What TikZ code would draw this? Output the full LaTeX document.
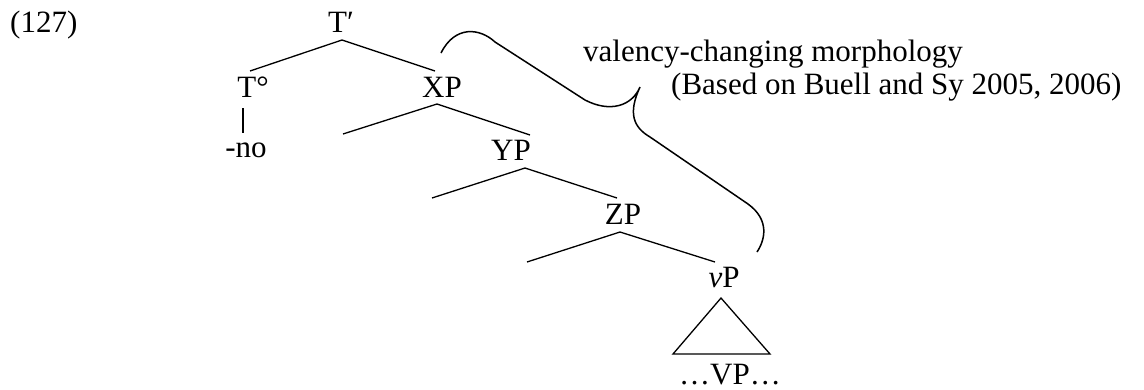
\documentclass[tikz,border=0pt]{standalone}
\usepackage{fontspec}
\setmainfont{Liberation Serif}
\begin{document}
\begin{tikzpicture}[x=1pt,y=-1pt,
  lbl/.style={anchor=base,inner sep=0pt,font=\fontsize{31}{36}\selectfont},
  edge/.style={line width=1.3pt},
  brace/.style={line width=1.5pt}]
\useasboundingbox (0,0) rectangle (1144,389);
% labels
\node[lbl,anchor=base west] (num) at (10,32) {(127)};
\node[lbl] (Tbar) at (341,32) {T′};
\node[lbl] (T) at (253,97) {T°};
\node[lbl] (no) at (246,157) {-no};
\node[lbl] (XP) at (442,97) {XP};
\node[lbl] (YP) at (511,160) {YP};
\node[lbl] (ZP) at (623,224) {ZP};
\node[lbl] (vP) at (724,287) {\textit{v}P};
\node[lbl] (VP) at (730,384) {…VP…};
\node[lbl,anchor=base west] (val) at (583,61) {valency-changing morphology};
\node[lbl,anchor=base west] (based) at (671,94) {(Based on Buell and Sy 2005, 2006)};
% coordinates
\coordinate (Ttop) at (342,40);
\coordinate (Tl) at (250,71);
\coordinate (Tr) at (435,71);
\coordinate (Tv1) at (243,108);
\coordinate (Tv2) at (243,133);
\coordinate (Xtop) at (437,104);
\coordinate (Xl) at (343,134);
\coordinate (Xr) at (530,135);
\coordinate (Ytop) at (525,168);
\coordinate (Yl) at (432,198);
\coordinate (Yr) at (617,198);
\coordinate (Ztop) at (620,232);
\coordinate (Zl) at (527,262);
\coordinate (Zr) at (715,262);
\coordinate (Va) at (721,298);
\coordinate (Vl) at (673,354);
\coordinate (Vr) at (770,354);
% tree
\draw[edge] (Tl) -- (Ttop) -- (Tr);
\draw[edge] (Tv1) -- (Tv2);
\draw[edge] (Xl) -- (Xtop) -- (Xr);
\draw[edge] (Yl) -- (Ytop) -- (Yr);
\draw[edge] (Zl) -- (Ztop) -- (Zr);
\draw[edge] (Va) -- (Vl) -- (Vr) -- cycle;
% brace
\coordinate (b0) at (441,53);
\coordinate (b1) at (495,42);
\coordinate (b2) at (585,100);
\coordinate (cusp) at (640,87);
\coordinate (b3) at (650,137);
\coordinate (b4) at (748,204);
\coordinate (b5) at (757,252);
\draw[brace] (b0) .. controls (455,25) and (480,28) .. (b1) -- (b2)
  .. controls (610,113) and (632,106) .. (cusp)
  .. controls (628,113) and (633,127) .. (b3) -- (b4)
  .. controls (770,220) and (765,240) .. (b5);
\end{tikzpicture}
\end{document}
